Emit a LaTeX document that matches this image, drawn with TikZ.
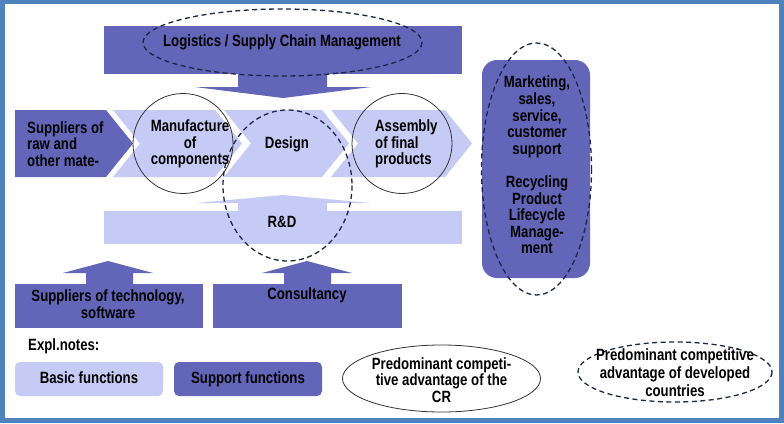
\documentclass[tikz,border=0pt]{standalone}
\usepackage{fontspec}
\setmainfont{Liberation Sans}
\newfontfamily\lblfont[FakeStretch=0.81]{Liberation Sans}
\usetikzlibrary{shapes.geometric}
\definecolor{framec}{RGB}{79,129,189}
\definecolor{darkf}{RGB}{99,101,184}
\definecolor{lightf}{RGB}{197,203,245}
\definecolor{dashc}{RGB}{30,38,70}
\begin{document}
\begin{tikzpicture}[x=1pt,y=-1pt,
  txt/.style={font=\lblfont\bfseries\fontsize{16.3}{16.6}\selectfont, inner sep=0pt, align=center, text=black},
  oneline/.style={text height=11.5pt, text depth=3.5pt},
  circ/.style={draw=black!80, line width=0.8pt},
  dsh/.style={draw=dashc, line width=1.3pt, dash pattern=on 5pt off 3.5pt},
  dk/.style={fill=darkf},
  lt/.style={fill=lightf}]
\fill[framec] (0,0) rectangle (784,423);
\fill[white] (5,4) rectangle (779,418);
\useasboundingbox (0,0) rectangle (784,423);
% logistics
\fill[dk] (104,26) rectangle (462,74);
\fill[dk] (238,74) -- (327,74) -- (327,87) -- (371,87) -- (283,98) -- (195,87) -- (238,87) -- cycle;
% chevrons
\fill[dk] (15,110) -- (106,110) -- (133,143.5) -- (106,177) -- (15,177) -- cycle;
\fill[lt] (113,110) -- (215,110) -- (242,143.5) -- (215,177) -- (113,177) -- (140,143.5) -- cycle;
\fill[lt] (224,110) -- (322,110) -- (349,143.5) -- (322,177) -- (224,177) -- (251,143.5) -- cycle;
\fill[lt] (331,110) -- (445,110) -- (472,143.5) -- (445,177) -- (331,177) -- (358,143.5) -- cycle;
% R&D
\fill[lt] (104,211) rectangle (462,244);
\fill[lt] (238,211) -- (238,203) -- (197,203) -- (283,195) -- (370,203) -- (327,203) -- (327,211) -- cycle;
% lower support boxes
\fill[dk] (15,284) rectangle (203,328);
\fill[dk] (86,284) -- (86,273) -- (63,273) -- (108,261) -- (153,273) -- (133,273) -- (133,284) -- cycle;
\fill[dk] (213,284) rectangle (402,328);
\fill[dk] (284,284) -- (284,273) -- (262,273) -- (307,261) -- (352,273) -- (331,273) -- (331,284) -- cycle;
% marketing
\fill[dk, rounded corners=15pt] (482,60) rectangle (590,278);
% legend boxes
\fill[lt, rounded corners=5pt] (15,362) rectangle (163,396);
\fill[dk, rounded corners=5pt] (174,362) rectangle (322,396);
% circles
\draw[circ] (183,143.5) circle[radius=50];
\draw[circ] (402,143.5) circle[radius=50];
\draw[circ] (441.5,378.5) ellipse[x radius=99, y radius=33.5];
% dashed ellipses
\draw[dsh] (282.5,42.5) ellipse[x radius=139.5, y radius=33.5];
\draw[dsh] (287.5,185.5) ellipse[x radius=64.5, y radius=75.5];
\draw[dsh] (536.5,169) ellipse[x radius=55, y radius=126];
\draw[dsh] (675,372) ellipse[x radius=97, y radius=30];
% texts
\node[txt, oneline] (log) at (282,42) {Logistics / Supply Chain Management};
\node[txt, align=left, anchor=west] (sup) at (27,144) {Suppliers of\\raw and\\other mate-};
\node[txt] (man) at (190,144) {Manufacture\\of\\components};
\node[txt, oneline] (des) at (287,144) {Design};
\node[txt, align=left, anchor=west] (ass) at (375,144) {Assembly\\of final\\products};
\node[txt, oneline] (rd) at (282,223) {R\&D};
\node[txt] (tech) at (108,304) {Suppliers of technology,\\software};
\node[txt, oneline] (cons) at (307,295) {Consultancy};
\node[txt] (mkt) at (537,165) {Marketing,\\sales,\\service,\\customer\\support\\[16.6pt]Recycling\\Product\\Lifecycle\\Manage-\\ment};
\node[txt, oneline, anchor=west] (expl) at (28,346) {Expl.notes:};
\node[txt, oneline] (basic) at (89,379) {Basic functions};
\node[txt, oneline] (supp) at (248,379) {Support functions};
\node[txt] (cr) at (441.5,380) {Predominant competi-\\tive advantage of the\\CR};
\node[txt, font=\lblfont\bfseries\fontsize{16.3}{18}\selectfont] (dev) at (675,373) {Predominant competitive\\advantage of developed\\countries};
\end{tikzpicture}
\end{document}
